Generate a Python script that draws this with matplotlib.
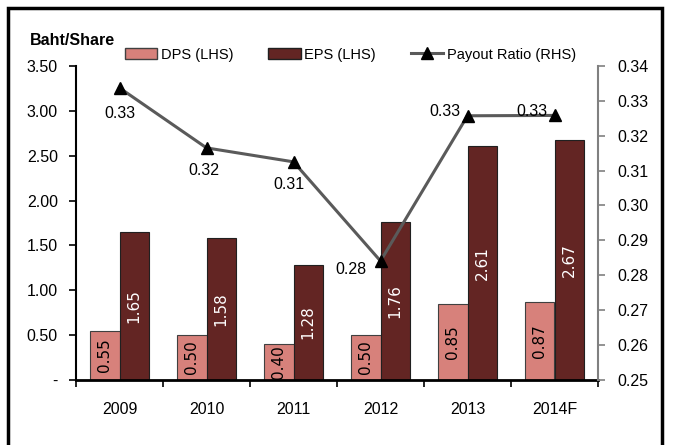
import matplotlib
matplotlib.use('Agg')
import matplotlib.pyplot as plt
from matplotlib.patches import Rectangle, Patch
from matplotlib.lines import Line2D
import numpy as np

plt.rcParams['font.family'] = ['Liberation Sans', 'DejaVu Sans']

years = ['2009', '2010', '2011', '2012', '2013', '2014F']
dps = [0.55, 0.50, 0.40, 0.50, 0.85, 0.87]
eps = [1.65, 1.58, 1.28, 1.76, 2.61, 2.67]
payout = [0.3337, 0.3165, 0.3125, 0.2841, 0.3257, 0.3258]
payout_lbl = ['0.33', '0.32', '0.31', '0.28', '0.33', '0.33']

c_dps = '#d7817b'
c_eps = '#632523'
c_line = '#5a5a5a'
fs = 11.5

fig = plt.figure(figsize=(6.74, 4.45), dpi=100)
ax = fig.add_axes([76/674, 0.146, 522/674, 0.706])
ax2 = ax.twinx()

x = np.arange(len(years))
w = 0.335
ax.bar(x - w/2, dps, w, color=c_dps, edgecolor='#404040', lw=0.8, zorder=2)
ax.bar(x + w/2, eps, w, color=c_eps, edgecolor='#202020', lw=0.8, zorder=2)

for xi, v in zip(x, dps):
    ax.text(xi - w/2, v / 2, f'{v:.2f}', rotation=90, ha='center', va='center',
            fontsize=11, color='black', family=['DejaVu Sans'], zorder=4)
for xi, v in zip(x, eps):
    ax.text(xi + w/2, v / 2, f'{v:.2f}', rotation=90, ha='center', va='center',
            fontsize=11, color='white', family=['DejaVu Sans'], zorder=4)

ax.set_xlim(-0.5, len(years) - 0.5)
ax.set_ylim(0, 3.5)
ax.set_yticks(np.arange(0, 3.51, 0.5))
ax.set_yticklabels(['-'] + [f'{v:.2f}' for v in np.arange(0.5, 3.51, 0.5)])
ax.set_xticks(np.arange(-0.5, len(years), 1.0))
ax.set_xticklabels([])
ax.set_xticks(x, minor=True)
ax.set_xticklabels(years, minor=True)
ax.tick_params(axis='x', which='major', length=5, width=1.2, direction='out')
ax.tick_params(axis='x', which='minor', length=0, pad=16, labelsize=fs)
ax.tick_params(axis='y', length=5, width=1.2, direction='out', labelsize=fs, pad=8)
ax.spines['top'].set_visible(False)
ax.spines['left'].set_linewidth(1.5)
ax.spines['bottom'].set_linewidth(2)
ax.spines['right'].set_visible(False)

ax2.plot(x, payout, color=c_line, lw=2.2, marker='^', markersize=9,
         markerfacecolor='black', markeredgecolor='black', zorder=3)
ax2.set_ylim(0.25, 0.34)
ax2.set_yticks(np.arange(0.25, 0.3401, 0.01))
ax2.set_yticklabels([f'{v:.2f}' for v in np.arange(0.25, 0.3401, 0.01)])
ax2.tick_params(axis='y', length=5, width=1.2, color='#808080', labelsize=fs, pad=9)
ax2.spines['top'].set_visible(False)
ax2.spines['left'].set_visible(False)
ax2.spines['bottom'].set_visible(False)
ax2.spines['right'].set_color('#808080')
ax2.spines['right'].set_linewidth(1.5)

offs = [(0, -13, 'center', 'top'), (-2, -11, 'center', 'top'), (-3, -11, 'center', 'top'),
        (-10, -6, 'right', 'center'), (-5, 3, 'right', 'center'), (-5, 3, 'right', 'center')]
for xi, v, t, (dx, dy, ha, va) in zip(x, payout, payout_lbl, offs):
    ax2.annotate(t, (xi, v), xytext=(dx, dy), textcoords='offset points',
                 ha=ha, va=va, fontsize=fs)

handles = [Patch(facecolor=c_dps, edgecolor='#404040'),
           Patch(facecolor=c_eps, edgecolor='#202020'),
           Line2D([], [], color=c_line, lw=2.2, marker='^', markersize=8,
                  markerfacecolor='black', markeredgecolor='black')]
fig.legend(handles, ['DPS (LHS)', 'EPS (LHS)', 'Payout Ratio (RHS)'],
           loc='center', bbox_to_anchor=(0.52, 0.877), ncol=3, frameon=False,
           fontsize=10.5, handlelength=2.2, handleheight=0.8, handletextpad=0.25,
           columnspacing=2.4)

fig.text(0.045, 0.91, 'Baht/Share', fontsize=fs, fontweight='bold', va='center')

fig.patches.append(Rectangle((8/674, -0.05), 654/674, 1.05 - 8/445,
                             transform=fig.transFigure, fill=False,
                             edgecolor='black', lw=2.5))

fig.savefig('out.png', dpi=100)
